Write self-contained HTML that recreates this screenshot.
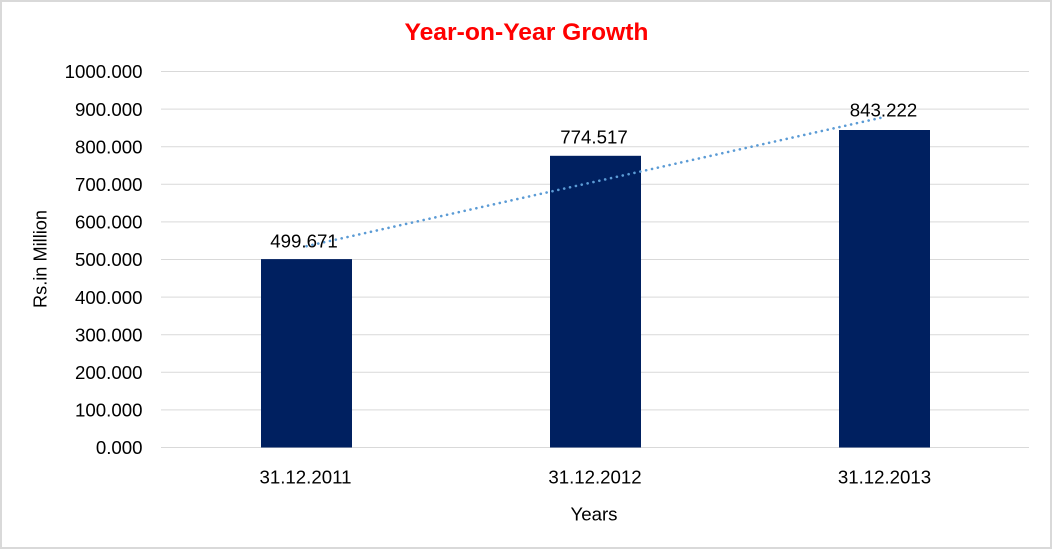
<!DOCTYPE html>
<html>
<head>
<meta charset="utf-8">
<style>
  html, body { margin: 0; padding: 0; background: #ffffff; }
  svg { display: block; }
  text { font-family: "Liberation Sans", Arial, sans-serif; fill: #000000; }
</style>
</head>
<body>
<svg width="1053" height="550" viewBox="0 0 1053 550" xmlns="http://www.w3.org/2000/svg">
  <rect x="0" y="0" width="1053" height="550" fill="#ffffff"/>
  <rect x="1" y="1" width="1050" height="547" fill="none" stroke="#d9d9d9" stroke-width="2"/>

  <!-- Title -->
  <text x="526.5" y="40" text-anchor="middle" font-size="24" font-weight="bold" style="fill:#ff0000" textLength="244" lengthAdjust="spacingAndGlyphs">Year-on-Year Growth</text>

  <!-- Gridlines -->
  <g stroke="#d9d9d9" stroke-width="1">
    <line x1="161" y1="71.5" x2="1029" y2="71.5"/>
    <line x1="161" y1="109.1" x2="1029" y2="109.1"/>
    <line x1="161" y1="146.7" x2="1029" y2="146.7"/>
    <line x1="161" y1="184.3" x2="1029" y2="184.3"/>
    <line x1="161" y1="221.9" x2="1029" y2="221.9"/>
    <line x1="161" y1="259.5" x2="1029" y2="259.5"/>
    <line x1="161" y1="297.1" x2="1029" y2="297.1"/>
    <line x1="161" y1="334.7" x2="1029" y2="334.7"/>
    <line x1="161" y1="372.3" x2="1029" y2="372.3"/>
    <line x1="161" y1="409.9" x2="1029" y2="409.9"/>
    <line x1="161" y1="447.5" x2="1029" y2="447.5"/>
  </g>

  <!-- Y tick labels -->
  <g font-size="18.67" text-anchor="end">
    <text x="142.5" y="78.2">1000.000</text>
    <text x="142.5" y="115.8">900.000</text>
    <text x="142.5" y="153.4">800.000</text>
    <text x="142.5" y="191.0">700.000</text>
    <text x="142.5" y="228.6">600.000</text>
    <text x="142.5" y="266.2">500.000</text>
    <text x="142.5" y="303.8">400.000</text>
    <text x="142.5" y="341.4">300.000</text>
    <text x="142.5" y="379.0">200.000</text>
    <text x="142.5" y="416.6">100.000</text>
    <text x="142.5" y="454.2">0.000</text>
  </g>

  <!-- Bars -->
  <g fill="#002060">
    <rect x="261" y="259.1" width="91" height="188.4"/>
    <rect x="550" y="155.8" width="91" height="291.7"/>
    <rect x="839" y="130.0" width="91" height="317.5"/>
  </g>

  <!-- Trendline -->
  <line x1="306.5" y1="246.2" x2="884.5" y2="117.0" stroke="#5b9bd5" stroke-width="2.6" stroke-linecap="round" stroke-dasharray="0.1 5.9"/>

  <!-- Data labels -->
  <g font-size="18.67" text-anchor="middle">
    <text x="304" y="247.7">499.671</text>
    <text x="594" y="143.5">774.517</text>
    <text x="883.5" y="116.7">843.222</text>
  </g>

  <!-- Category labels -->
  <g font-size="18.67" text-anchor="middle">
    <text x="305.5" y="483.3">31.12.2011</text>
    <text x="595" y="483.3">31.12.2012</text>
    <text x="884.5" y="483.3">31.12.2013</text>
  </g>

  <!-- Axis titles -->
  <text x="594" y="520.7" font-size="18.67" text-anchor="middle">Years</text>
  <text transform="translate(46.5,259) rotate(-90)" x="0" y="0" font-size="18" text-anchor="middle" textLength="98" lengthAdjust="spacingAndGlyphs">Rs.in Million</text>
</svg>
</body>
</html>
